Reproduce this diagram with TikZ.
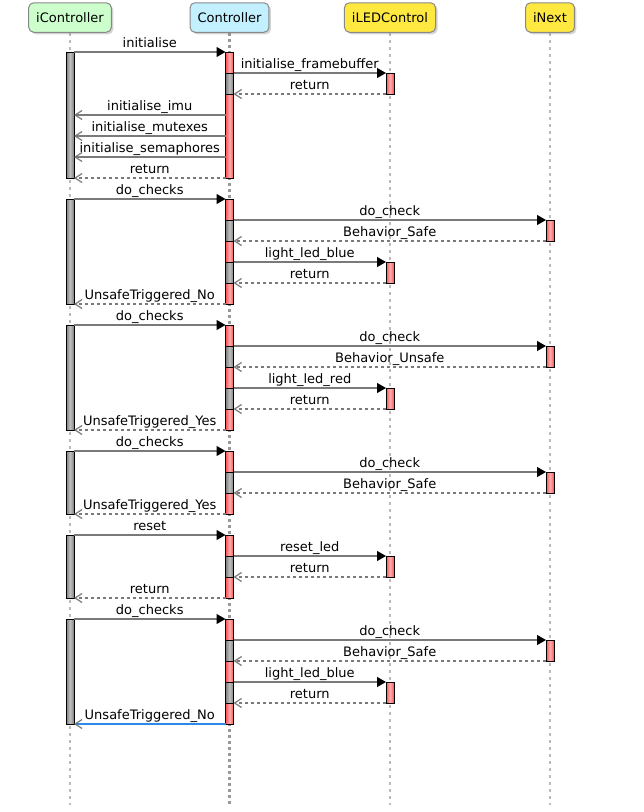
\documentclass[tikz,border=0pt]{standalone}
\usepackage{fontspec}
\setmainfont{DejaVu Sans}
\usetikzlibrary{arrows.meta,shadows}
\definecolor{msgcol}{HTML}{7A7A7A}
\definecolor{lifecol}{HTML}{BBBBBB}
\definecolor{lifecolB}{HTML}{999999}
\definecolor{pgreen}{HTML}{CCFFCC}
\definecolor{pblue}{HTML}{C2F0FF}
\definecolor{pyellow}{HTML}{FFE840}
\definecolor{pborder}{HTML}{888888}
\definecolor{bluemsg}{HTML}{2A8BEA}
\definecolor{redA}{HTML}{FF5050}
\definecolor{redB}{HTML}{FFB0B0}
\definecolor{grayA}{HTML}{7E7E7E}
\definecolor{grayB}{HTML}{C0C0C0}
\newcount\mcnt
\newcommand\seqmsg[5]{%
  \global\advance\mcnt by 1
  \coordinate (ms\the\mcnt) at (#2,#4);
  \coordinate (me\the\mcnt) at (#3,#4);
  \draw[#1] (ms\the\mcnt) -- (me\the\mcnt) node[lbl]{#5};
}
\newcommand\actbar[4]{\draw[#1] (#2-4,#3) rectangle (#2+4,#4);}
\begin{document}
\begin{tikzpicture}[x=1pt,y=-1pt,
  every node/.style={font=\fontsize{13}{15}\selectfont},
  part/.style={draw=pborder, line width=1pt, rounded corners=5pt, minimum height=29.5pt, inner xsep=7.5pt, inner ysep=0pt,
    drop shadow={shadow xshift=2pt, shadow yshift=-2pt, opacity=0.35, fill=gray}},
  life/.style={draw=lifecol, line width=1.5pt, dash pattern=on 3pt off 4pt},
  lifeB/.style={draw=lifecolB, line width=2.5pt, dash pattern=on 2.5pt off 3.5pt},
  lbl/.style={midway, anchor=base, yshift=5pt, inner sep=0pt},
  call/.style={draw=msgcol, line width=1.2pt, -{Triangle[length=9pt,width=10pt,color=black]}},
  ret/.style={draw=msgcol, line width=1.2pt, dash pattern=on 3pt off 3pt, -{Straight Barb[length=7pt,width=9pt]}},
  async/.style={draw=msgcol, line width=1.2pt, -{Straight Barb[length=7pt,width=9pt]}},
  bluem/.style={draw=bluemsg, line width=2.2pt, -{Straight Barb[length=7pt,width=9pt,color=msgcol,line width=1.2pt]}},
  gbar/.style={draw=black, line width=0.9pt, left color=grayA, right color=grayA, middle color=grayB},
  rbar/.style={draw=black, line width=0.9pt, left color=redA, right color=redA, middle color=redB}
]
\useasboundingbox (0,0) rectangle (644,812);
% lifelines
\coordinate (t1) at (70,33); \coordinate (b1) at (70,805);
\coordinate (t2) at (229.5,33); \coordinate (b2) at (229.5,805);
\coordinate (t3) at (390,33); \coordinate (b3) at (390,805);
\coordinate (t4) at (550,33); \coordinate (b4) at (550,805);
\draw[life] (t1) -- (b1);
\draw[lifeB] (t2) -- (b2);
\draw[life] (t3) -- (b3);
\draw[life] (t4) -- (b4);
% participants
\node[part, fill=pgreen] (p1) at (70,17.5) {iController};
\node[part, fill=pblue] (p2) at (229.5,17.5) {Controller};
\node[part, fill=pyellow] (p3) at (390,17.5) {iLEDControl};
\node[part, fill=pyellow] (p4) at (550,17.5) {iNext};
% activation bars: iController
\actbar{gbar}{70}{52}{178}
\actbar{gbar}{70}{199}{304}
\actbar{gbar}{70}{325}{430}
\actbar{gbar}{70}{451}{514}
\actbar{gbar}{70}{535}{598}
\actbar{gbar}{70}{619}{724}
% Controller
\actbar{rbar}{229.5}{52}{73}
\actbar{gbar}{229.5}{73}{94}
\actbar{rbar}{229.5}{94}{178}
\actbar{rbar}{229.5}{199}{220}
\actbar{gbar}{229.5}{220}{241}
\actbar{rbar}{229.5}{241}{262}
\actbar{gbar}{229.5}{262}{283}
\actbar{rbar}{229.5}{283}{304}
\actbar{rbar}{229.5}{325}{346}
\actbar{gbar}{229.5}{346}{367}
\actbar{rbar}{229.5}{367}{388}
\actbar{gbar}{229.5}{388}{409}
\actbar{rbar}{229.5}{409}{430}
\actbar{rbar}{229.5}{451}{472}
\actbar{gbar}{229.5}{472}{493}
\actbar{rbar}{229.5}{493}{514}
\actbar{rbar}{229.5}{535}{556}
\actbar{gbar}{229.5}{556}{577}
\actbar{rbar}{229.5}{577}{598}
\actbar{rbar}{229.5}{619}{640}
\actbar{gbar}{229.5}{640}{661}
\actbar{rbar}{229.5}{661}{682}
\actbar{gbar}{229.5}{682}{703}
\actbar{rbar}{229.5}{703}{724}
% iLEDControl
\actbar{rbar}{390}{73}{94}
\actbar{rbar}{390}{262}{283}
\actbar{rbar}{390}{388}{409}
\actbar{rbar}{390}{556}{577}
\actbar{rbar}{390}{682}{703}
% iNext
\actbar{rbar}{550}{220}{241}
\actbar{rbar}{550}{346}{367}
\actbar{rbar}{550}{472}{493}
\actbar{rbar}{550}{640}{661}
% messages
\seqmsg{call}{74}{225.5}{52}{initialise}
\seqmsg{call}{233.5}{386}{73}{initialise\_framebuffer}
\seqmsg{ret}{386}{233.5}{94}{return}
\seqmsg{async}{225.5}{74}{115}{initialise\_imu}
\seqmsg{async}{225.5}{74}{136}{initialise\_mutexes}
\seqmsg{async}{225.5}{74}{157}{initialise\_semaphores}
\seqmsg{ret}{225.5}{74}{178}{return}
\seqmsg{call}{74}{225.5}{199}{do\_checks}
\seqmsg{call}{233.5}{546}{220}{do\_check}
\seqmsg{ret}{546}{233.5}{241}{Behavior\_Safe}
\seqmsg{call}{233.5}{386}{262}{light\_led\_blue}
\seqmsg{ret}{386}{233.5}{283}{return}
\seqmsg{ret}{225.5}{74}{304}{UnsafeTriggered\_No}
\seqmsg{call}{74}{225.5}{325}{do\_checks}
\seqmsg{call}{233.5}{546}{346}{do\_check}
\seqmsg{ret}{546}{233.5}{367}{Behavior\_Unsafe}
\seqmsg{call}{233.5}{386}{388}{light\_led\_red}
\seqmsg{ret}{386}{233.5}{409}{return}
\seqmsg{ret}{225.5}{74}{430}{UnsafeTriggered\_Yes}
\seqmsg{call}{74}{225.5}{451}{do\_checks}
\seqmsg{call}{233.5}{546}{472}{do\_check}
\seqmsg{ret}{546}{233.5}{493}{Behavior\_Safe}
\seqmsg{ret}{225.5}{74}{514}{UnsafeTriggered\_Yes}
\seqmsg{call}{74}{225.5}{535}{reset}
\seqmsg{call}{233.5}{386}{556}{reset\_led}
\seqmsg{ret}{386}{233.5}{577}{return}
\seqmsg{ret}{225.5}{74}{598}{return}
\seqmsg{call}{74}{225.5}{619}{do\_checks}
\seqmsg{call}{233.5}{546}{640}{do\_check}
\seqmsg{ret}{546}{233.5}{661}{Behavior\_Safe}
\seqmsg{call}{233.5}{386}{682}{light\_led\_blue}
\seqmsg{ret}{386}{233.5}{703}{return}
\seqmsg{bluem}{225.5}{74}{724}{UnsafeTriggered\_No}
\end{tikzpicture}
\end{document}
